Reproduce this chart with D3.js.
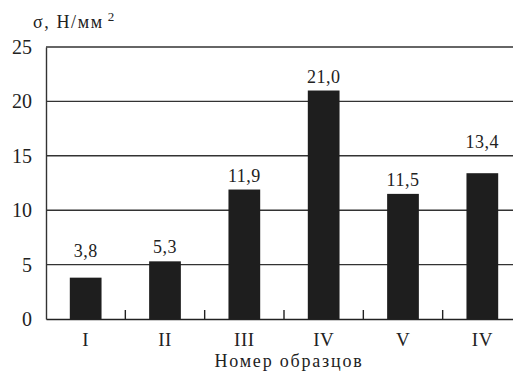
<!DOCTYPE html>
<html><head><meta charset="utf-8">
<script src="https://cdn.jsdelivr.net/npm/d3@7"></script>
<style>body{margin:0;background:#fff}svg{display:block}</style>
</head><body>
<script>
const categories = ["I","II","III","IV","V","IV"];
const values = [3.8, 5.3, 11.9, 21.0, 11.5, 13.4];
const valueLabels = ["3,8","5,3","11,9","21,0","11,5","13,4"];
const yTicks = [0,5,10,15,20,25];
const xTitle = "Номер образцов";
const yTitle = "σ, Н/мм";

const W = 513, H = 377;
const mLeft = 46, mTop = 47, mBottom = 319, mRight = 522;
const font = "Liberation Serif, Times New Roman, Times, Nimbus Roman, DejaVu Serif, serif";
const svg = d3.select("body").append("svg").attr("width", W).attr("height", H)
  .style("font-family", font);

const x = d3.scaleBand().domain(d3.range(categories.length)).range([mLeft, mRight]).paddingInner(0).paddingOuter(0);
const y = d3.scaleLinear().domain([0, 25]).range([mBottom, mTop]);

// gridlines
const gridVals = yTicks.filter(d => d > 0);
svg.append("g").selectAll("line").data(gridVals).join("line")
  .attr("x1", mLeft).attr("x2", mRight).attr("y1", d => y(d)).attr("y2", d => y(d))
  .attr("stroke", "#333").attr("stroke-width", 1.4);

// bars
const bw = x.bandwidth() * 0.4;
svg.append("g").selectAll("rect").data(values).join("rect")
  .attr("x", (d, i) => x(i) + x.bandwidth() / 2 - bw / 2)
  .attr("y", d => y(d)).attr("width", bw).attr("height", d => y(0) - y(d))
  .attr("fill", "#1e1e1e");

// y axis
const yAxis = d3.axisLeft(y).tickValues(yTicks).tickSize(0).tickPadding(14).tickFormat(d3.format("d"));
const gy = svg.append("g").attr("transform", `translate(${mLeft},0)`).call(yAxis);
gy.select(".domain").attr("stroke", "#333").attr("stroke-width", 1.4);
gy.selectAll("text").attr("font-family", font).attr("font-size", 20).attr("fill", "#222");

// x axis baseline
const xAxis = d3.axisBottom(x).tickFormat((d, i) => categories[i]).tickSize(0).tickPadding(0);
const gx = svg.append("g").attr("transform", `translate(0,${mBottom})`).call(xAxis);
gx.select(".domain").attr("stroke", "#222").attr("stroke-width", 1.6);
gx.selectAll("text").attr("font-family", font).attr("font-size", 19).attr("fill", "#222")
  .attr("letter-spacing", 0.5).attr("y", 27).attr("dy", 0);
// inner boundary ticks
svg.append("g").selectAll("line").data(d3.range(1, categories.length)).join("line")
  .attr("x1", d => x(d)).attr("x2", d => x(d)).attr("y1", mBottom).attr("y2", mBottom - 9)
  .attr("stroke", "#222").attr("stroke-width", 1.4);

// value labels (shifted above a gridline when they would cross it)
function labelY(v) {
  let b = y(v) - 8;
  const hit = gridVals.map(y).find(g => g > b - 13 && g < b + 2);
  if (hit !== undefined) b = hit - 8;
  return b;
}
svg.append("g").selectAll("text").data(values).join("text")
  .attr("x", (d, i) => x(i) + x.bandwidth() / 2).attr("y", d => labelY(d))
  .attr("text-anchor", "middle").attr("font-family", font).attr("font-size", 18).attr("fill", "#222")
  .attr("letter-spacing", 0.5)
  .text((d, i) => valueLabels[i]);

// titles
const yt = svg.append("text").attr("x", 33).attr("y", 28).attr("font-family", font).attr("font-size", 18)
  .attr("letter-spacing", 1.6).attr("fill", "#222");
yt.append("tspan").text(yTitle);
yt.append("tspan").attr("dx", 4).attr("dy", -7).attr("font-size", 13).text("2");

svg.append("text").attr("x", 289).attr("y", 367).attr("text-anchor", "middle")
  .attr("font-family", font).attr("font-size", 18).attr("letter-spacing", 1.8).attr("fill", "#222").text(xTitle);
</script>
</body></html>
